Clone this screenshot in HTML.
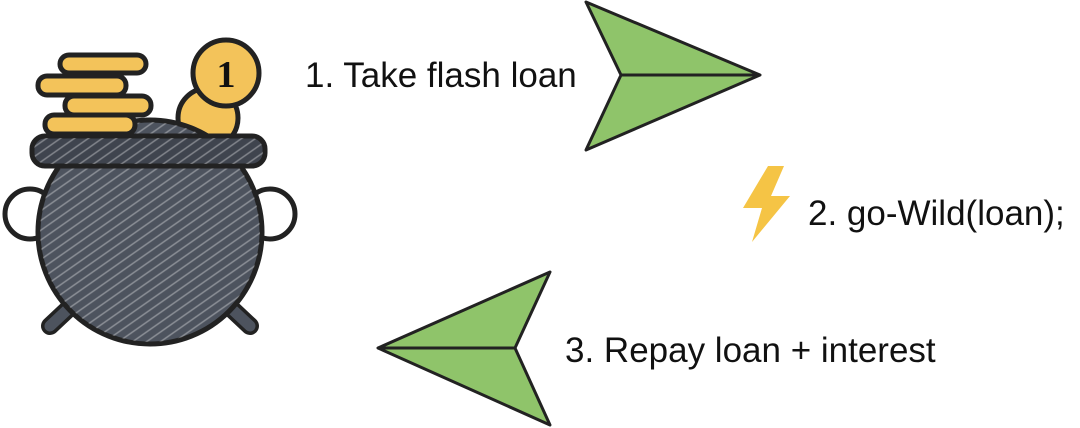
<!DOCTYPE html>
<html><head><style>
html,body{margin:0;padding:0;background:#fff;width:1080px;height:428px;overflow:hidden}
svg{position:absolute;left:0;top:0}
text{font-family:"Liberation Sans",sans-serif;fill:#111}
</style></head><body>
<svg width="1080" height="428" viewBox="0 0 1080 428">
<defs>
<pattern id="h" width="8" height="8" patternUnits="userSpaceOnUse" patternTransform="rotate(-35)">
<rect width="8" height="8" fill="none"/><line x1="0" y1="4" x2="8" y2="4" stroke="#fff" stroke-opacity=".35" stroke-width="1.5"/>
</pattern>
</defs>
<g stroke="#222" stroke-width="5" stroke-linejoin="round" stroke-linecap="round">
<line x1="50" y1="326" x2="82" y2="296" stroke-width="18"/>
<line x1="250" y1="326" x2="218" y2="296" stroke-width="18"/>
<line x1="50" y1="326" x2="82" y2="296" stroke="#4d535e" stroke-width="11"/>
<line x1="250" y1="326" x2="218" y2="296" stroke="#4d535e" stroke-width="11"/>
<circle cx="30" cy="214" r="25" fill="#fff"/>
<circle cx="270" cy="214" r="25" fill="#fff"/>
<circle cx="208" cy="118" r="30" fill="#f3c35a"/>
<circle cx="150" cy="232" r="112" fill="#4d535e"/>
<circle cx="150" cy="232" r="110" fill="url(#h)" stroke="none"/>
<rect x="32" y="136" width="233" height="30" rx="13" fill="#3f444e"/>
<rect x="34" y="138" width="229" height="26" rx="12" fill="url(#h)" stroke="none"/>
<rect x="38" y="76" width="88" height="19" rx="9" fill="#f3c35a"/>
<rect x="45" y="115" width="90" height="19" rx="9" fill="#f3c35a"/>
<rect x="65" y="96" width="86" height="19" rx="9" fill="#f3c35a"/>
<rect x="60" y="55" width="86" height="18" rx="9" fill="#f3c35a"/>
<circle cx="226" cy="73" r="33" fill="#f3c35a"/>
</g>
<text x="226" y="87" font-size="38" font-weight="bold" text-anchor="middle" style="font-family:'Liberation Serif',serif">1</text>
<g stroke="#222" stroke-width="3" stroke-linejoin="round" fill="#8fc46a">
<polygon points="586,2 760,75 586,150 621,75"/>
<line x1="621" y1="75" x2="760" y2="75"/>
<polygon points="550,272 378,348 550,425 515,348"/>
<line x1="515" y1="348" x2="378" y2="348"/>
</g>
<polygon points="768,166 743,208 762,208 752,242 790,196 771,196 784,166" fill="#f5c445"/>
<text x="305" y="87" font-size="35">1. Take flash loan</text>
<text x="808" y="225" font-size="35">2. go-Wild(loan);</text>
<text x="565" y="362" font-size="35">3. Repay loan + interest</text>
</svg>
</body></html>
